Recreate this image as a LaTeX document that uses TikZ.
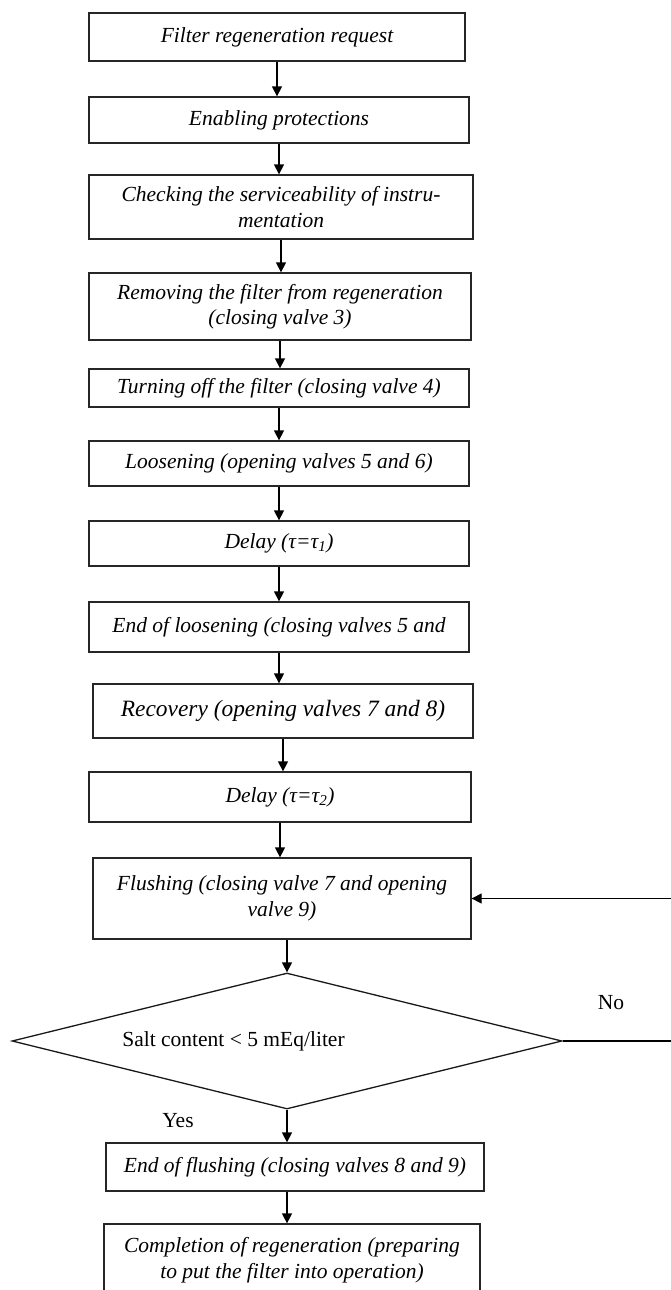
\documentclass[tikz,border=0pt]{standalone}
\usepackage{fontspec}
\setmainfont{Liberation Serif}
\usetikzlibrary{arrows.meta,shapes.geometric,calc}

\tikzset{
  stepbox/.style={draw=black!85,line width=1.3pt,rectangle,align=center,inner sep=2pt,
    font=\fontsize{21.5}{25.5}\selectfont\itshape},
  decision/.style={draw=black!90,line width=1.3pt,diamond,inner sep=0pt},
  flowarrow/.style={-{Triangle[length=10pt,width=10pt]},line width=1.3pt},
  answer/.style={font=\fontsize{21.5}{25}\selectfont},
}

\begin{document}
\begin{tikzpicture}[x=1pt,y=-1pt]
  \useasboundingbox (0,0) rectangle (671,1290);
  \clip (0,0) rectangle (671,1290);
  % regeneration steps
  \node[stepbox,minimum width=376pt,minimum height=48pt] (request) at (277,37) {Filter regeneration request};
  \node[stepbox,minimum width=380pt,minimum height=46pt] (protect) at (279,120) {Enabling protections};
  \node[stepbox,minimum width=384pt,minimum height=64pt] (instr) at (281,207) {Checking the serviceability of instru-\\mentation};
  \node[stepbox,minimum width=382pt,minimum height=67pt] (remove) at (280,306.5) {Removing the filter from regeneration\\(closing valve 3)};
  \node[stepbox,minimum width=380pt,minimum height=38pt] (turnoff) at (279,388) {Turning off the filter (closing valve 4)};
  \node[stepbox,minimum width=380pt,minimum height=45pt] (loosen) at (279,463.5) {Loosening (opening valves 5 and 6)};
  \node[stepbox,minimum width=380pt,minimum height=45pt] (delayone) at (279,543.5) {Delay (τ=τ\textsubscript{1})};
  \node[stepbox,minimum width=380pt,minimum height=50pt] (endloose) at (279,627) {End of loosening (closing valves 5 and};
  \node[stepbox,minimum width=380pt,minimum height=54pt,font=\fontsize{23.4}{28}\selectfont\itshape] (recover) at (283,711) {Recovery (opening valves 7 and 8)};
  \node[stepbox,minimum width=382pt,minimum height=50pt] (delaytwo) at (280,797) {Delay (τ=τ\textsubscript{2})};
  \node[stepbox,minimum width=378pt,minimum height=81pt] (flush) at (282,898.5) {Flushing (closing valve 7 and opening\\valve 9)};

  % salt check
  \node[decision,minimum width=550pt,minimum height=136pt,
        label={[answer,xshift=-53.5pt]center:{Salt content < 5 mEq/liter}}] (check) at (287,1041) {};
  \node[answer] (yes) at (178,1121) {Yes};
  \node[answer] (no) at (611,1003) {No};

  \node[stepbox,minimum width=378pt,minimum height=48pt] (endflush) at (295,1167) {End of flushing (closing valves 8 and 9)};
  \node[stepbox,minimum width=376pt,minimum height=72pt] (complete) at (292,1260) {Completion of regeneration (preparing\\to put the filter into operation)};

  % connectors
  \foreach \a/\b in {request/protect,protect/instr,instr/remove,remove/turnoff,turnoff/loosen,
                     loosen/delayone,delayone/endloose,endloose/recover,recover/delaytwo,delaytwo/flush}
    \draw[flowarrow] (\a.south) -- (\a.south |- \b.north);
  \draw[flowarrow] (flush.south -| check.north) -- (check.north);
  \draw[flowarrow] (check.south) -- (check.south |- endflush.north);
  \draw[flowarrow] (endflush.south -| check.south) -- (complete.north -| check.south);

  % back to flushing
  \coordinate (loop) at (690,1041);
  \draw[flowarrow] (check.east) -- (loop) |- (flush.east);
\end{tikzpicture}
\end{document}
